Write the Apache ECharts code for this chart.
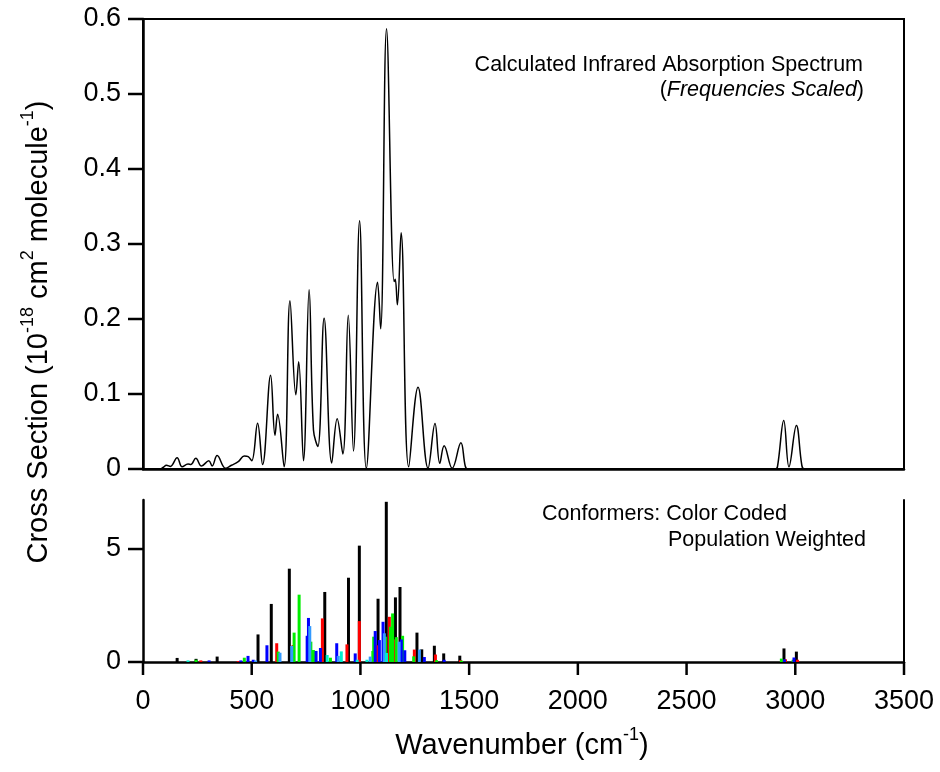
<!DOCTYPE html>
<html>
<head>
<meta charset="utf-8">
<script src="https://cdn.jsdelivr.net/npm/echarts@6/dist/echarts.min.js"></script>
<style>
html,body{margin:0;padding:0;background:#fff;}
#chart{width:940px;height:772px;}
</style>
</head>
<body>
<div id="chart"></div>
<script>
// ---- Calculated spectrum ----
var specX = [0, 80, 92, 108, 126, 157, 180, 207, 220, 243, 269, 303, 318, 341, 380, 407, 438, 466, 484, 500,
  527, 550, 587, 607, 619, 649, 676, 703, 716, 738, 764, 784, 804, 833, 868, 893, 919, 944, 968, 996,
  1027, 1079, 1093, 1120, 1155, 1160, 1170, 1187, 1222, 1265, 1311, 1343, 1365, 1385, 1422, 1462, 1482, 1492, 1505,
  2895, 2908, 2918, 2947, 2971, 3005, 3030, 3040, 3055, 3500];
var specY = [0, 0, 0.002, 0.005, 0.0035, 0.015, 0.003, 0.0067, 0.006, 0.0143, 0.004, 0.011, 0.004, 0.018, 0.001, 0.005, 0.0098, 0.0174, 0.0165, 0.011,
  0.061, 0.006, 0.125, 0.045, 0.073, 0.003, 0.2245, 0.099, 0.143, 0.011, 0.239, 0.052, 0.030, 0.201, 0.008, 0.067, 0.020, 0.205, 0.024, 0.331,
  0.001, 0.249, 0.187, 0.587, 0.250, 0.253, 0.219, 0.315, 0.003, 0.109, 0.001, 0.0606, 0.0076, 0.031, 0.001, 0.035, 0.004, 0, 0,
  0, 0, 0.003, 0.0646, 0.003, 0.058, 0.005, 0, 0, 0];

// ---- Conformer sticks (wavenumber, population-weighted intensity) ----
var blackX = [157, 244, 341, 529, 590, 673, 836, 945, 995, 1081, 1119, 1161, 1182, 1260, 1282, 1340, 1383, 1457, 2948, 3005];
var blackY = [0.18, 0.14, 0.24, 1.22, 2.57, 4.13, 3.10, 3.73, 5.15, 2.80, 7.09, 2.86, 3.32, 1.30, 0.56, 0.72, 0.38, 0.28, 0.60, 0.46];
var redX = [266, 438, 615, 690, 825, 938, 995, 1076, 1133, 1161, 1248, 1345, 1460, 2955, 3010];
var redY = [0.07, 0.04, 0.83, 0.75, 1.93, 0.78, 1.81, 0.74, 2.00, 1.00, 0.55, 0.33, 0.08, 0.12, 0.10];
var greenX = [244, 466, 622, 695, 718, 772, 784, 862, 1057, 1061, 1115, 1138, 1148, 1165, 1194, 1245, 1350, 1465, 2936, 2990];
var greenY = [0.10, 0.19, 0.46, 1.30, 2.98, 0.90, 0.53, 0.19, 0.49, 1.12, 1.12, 1.56, 2.15, 1.10, 1.16, 0.25, 0.08, 0.06, 0.15, 0.10];
var blueX = [304, 450, 483, 507, 570, 755, 761, 796, 816, 891, 976, 1068, 1087, 1104, 1188, 1204, 1294, 1385, 2950, 2994];
var blueY = [0.07, 0.07, 0.27, 0.10, 0.74, 1.16, 1.95, 0.49, 0.62, 0.83, 0.38, 1.37, 0.97, 1.78, 1.00, 0.52, 0.22, 0.10, 0.12, 0.20];
var lblueX = [518, 630, 684, 767, 898, 1045, 1110, 1178, 1271];
var lblueY = [0.07, 0.41, 0.71, 1.59, 0.27, 0.24, 1.27, 0.90, 0.55];
var cyanX = [207, 847, 912, 985, 1030, 1120];
var cyanY = [0.07, 0.31, 0.47, 0.10, 0.10, 0.40];

// ---- Axis ticks ----
var topTicks = [0, 0.1, 0.2, 0.3, 0.4, 0.5, 0.6];
var botTicks = [0, 5];
var xTicks = [0, 500, 1000, 1500, 2000, 2500, 3000, 3500];

function pairs(xs, ys) { return xs.map(function (x, i) { return [x, ys[i]]; }); }

var FONT = '"Liberation Sans", Arial, Helvetica, sans-serif';
var chart = echarts.init(document.getElementById('chart'), null, {renderer: 'canvas'});

function stick(name, color, xs, ys) {
  return {
    name: name, type: 'bar', xAxisIndex: 1, yAxisIndex: 1,
    barWidth: 3, barGap: '-100%',
    itemStyle: {color: color},
    data: pairs(xs, ys)
  };
}

var textGraphics = [
    {type: 'text', x: 863, y: 65, style: {
      text: 'Calculated Infrared Absorption Spectrum', font: '21.5px ' + FONT, fill: '#000',
      align: 'right', verticalAlign: 'middle', textAlign: 'right', textVerticalAlign: 'middle'}},
    {type: 'text', x: 864, y: 90, style: {
      text: '{n|(}{i|Frequencies Scaled}{n|)}', fill: '#000',
      align: 'right', verticalAlign: 'middle', textAlign: 'right', textVerticalAlign: 'middle',
      rich: {n: {fontSize: 21.5, fontFamily: FONT, fill: '#000'}, i: {fontSize: 21.5, fontFamily: FONT, fontStyle: 'italic', fill: '#000'}}}},
    {type: 'text', x: 542, y: 514, style: {
      text: 'Conformers: Color Coded', font: '21.5px ' + FONT, fill: '#000',
      align: 'left', verticalAlign: 'middle', textAlign: 'left', textVerticalAlign: 'middle'}},
    {type: 'text', x: 668, y: 540, style: {
      text: 'Population Weighted', font: '21.5px ' + FONT, fill: '#000',
      align: 'left', verticalAlign: 'middle', textAlign: 'left', textVerticalAlign: 'middle'}},
    {type: 'text', x: 522, y: 746, style: {
      text: '{m|Wavenumber (cm}{s|-1}{m|)}', fill: '#000',
      align: 'center', verticalAlign: 'middle', textAlign: 'center', textVerticalAlign: 'middle',
      rich: {m: {fontSize: 29, lineHeight: 40, fontFamily: FONT, fill: '#000'},
             s: {fontSize: 18, fontFamily: FONT, fill: '#000', verticalAlign: 'top'}}}},
    {type: 'text', x: 39, y: 332, rotation: Math.PI / 2, style: {
      text: '{m|Cross Section (10}{s|-18}{m| cm}{s|2}{m| molecule}{s|-1}{m|)}', fill: '#000',
      align: 'center', verticalAlign: 'middle', textAlign: 'center', textVerticalAlign: 'middle',
      rich: {m: {fontSize: 29, lineHeight: 40, fontFamily: FONT, fill: '#000'},
             s: {fontSize: 18, fontFamily: FONT, fill: '#000', verticalAlign: 'top'}}}}
];

var option = {
  animation: false,
  backgroundColor: '#fff',
  grid: [
    {left: 143, top: 19, width: 761, height: 450, show: true, borderColor: '#000', borderWidth: 2, backgroundColor: 'transparent'},
    {left: 143, top: 500, width: 761, height: 162}
  ],
  xAxis: [
    {gridIndex: 0, type: 'value', min: 0, max: 3500, interval: 500,
     axisLine: {show: true, onZero: false, lineStyle: {color: '#000', width: 2.5}},
     axisTick: {show: false}, axisLabel: {show: false}, splitLine: {show: false}},
    {gridIndex: 1, type: 'value', min: 0, max: 3500, interval: 500,
     axisLine: {show: true, onZero: false, lineStyle: {color: '#000', width: 2.5}},
     axisTick: {show: false},
     axisLabel: {show: true, margin: 26, fontSize: 27, color: '#000', fontFamily: FONT,
       formatter: function (v) { return String(v); }},
     splitLine: {show: false}}
  ],
  yAxis: [
    {gridIndex: 0, type: 'value', min: 0, max: 0.6, interval: 0.1,
     axisLine: {show: true, onZero: false, lineStyle: {color: '#000', width: 2.5}},
     axisTick: {show: false},
     axisLabel: {show: true, margin: 22, fontSize: 27, color: '#000', fontFamily: FONT,
       formatter: function (v) { return v === 0 ? '0' : v.toFixed(1); }},
     splitLine: {show: false}},
    {gridIndex: 1, type: 'value', min: 0, max: 7.17, interval: 5,
     axisLine: {show: true, onZero: false, lineStyle: {color: '#000', width: 2.5}},
     axisTick: {show: false},
     axisLabel: {show: true, margin: 22, fontSize: 27, color: '#000', fontFamily: FONT,
       showMaxLabel: false,
       formatter: function (v) { return botTicks.indexOf(v) >= 0 ? String(v) : ''; }},
     splitLine: {show: false}},
    {gridIndex: 1, type: 'value', min: 0, max: 7.17, position: 'right',
     axisLine: {show: true, onZero: false, lineStyle: {color: '#000', width: 2}},
     axisTick: {show: false}, axisLabel: {show: false}, splitLine: {show: false}}
  ],
  series: [
    {type: 'line', xAxisIndex: 0, yAxisIndex: 0, showSymbol: false, smooth: 0.4,
     lineStyle: {color: '#000', width: 1.5}, data: pairs(specX, specY), z: 3},
    stick('conf1', '#000000', blackX, blackY),
    stick('conf2', '#ff0000', redX, redY),
    stick('conf3', '#00ee00', greenX, greenY),
    stick('conf4', '#0000ff', blueX, blueY),
    stick('conf5', '#3399ff', lblueX, lblueY),
    stick('conf6', '#00eecc', cyanX, cyanY)
  ],
  graphic: textGraphics
};
chart.setOption(option);

// Tick marks placed through the chart's own axis scales
var tickGraphics = [];
topTicks.forEach(function (v) {
  var p = chart.convertToPixel({xAxisIndex: 0, yAxisIndex: 0}, [0, v]);
  tickGraphics.push({type: 'line', z: 100, shape: {x1: p[0] - 15, y1: p[1], x2: p[0], y2: p[1]},
    style: {stroke: '#000', lineWidth: 2.5}});
});
botTicks.forEach(function (v) {
  var p = chart.convertToPixel({xAxisIndex: 1, yAxisIndex: 1}, [0, v]);
  tickGraphics.push({type: 'line', z: 100, shape: {x1: p[0] - 15, y1: p[1], x2: p[0], y2: p[1]},
    style: {stroke: '#000', lineWidth: 2.5}});
});
xTicks.forEach(function (v) {
  var p = chart.convertToPixel({xAxisIndex: 1, yAxisIndex: 1}, [v, 0]);
  tickGraphics.push({type: 'line', z: 100, shape: {x1: p[0], y1: p[1], x2: p[0], y2: p[1] + 13},
    style: {stroke: '#000', lineWidth: 2.5}});
});
chart.setOption({graphic: textGraphics.concat(tickGraphics)});
</script>
</body>
</html>
